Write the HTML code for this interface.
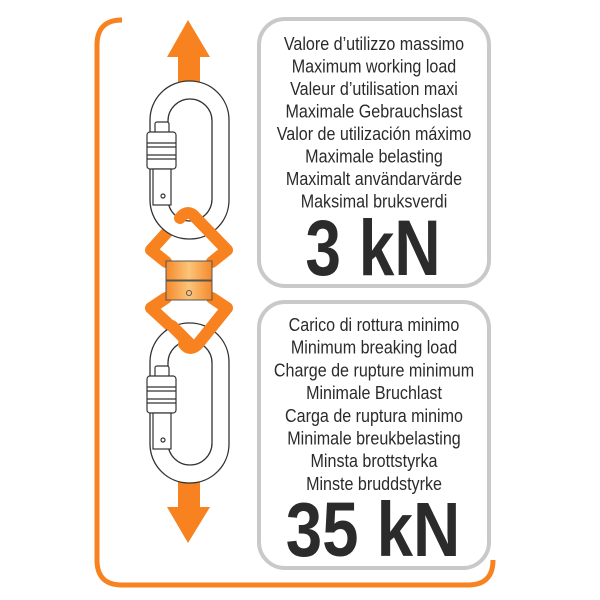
<!DOCTYPE html>
<html><head><meta charset="utf-8"><style>
html,body{margin:0;padding:0;background:#fff;}
svg{display:block}
text{font-family:"Liberation Sans",Arial,sans-serif;fill:#2b2b2b}
</style></head><body>
<svg width="600" height="600" viewBox="0 0 600 600" xmlns="http://www.w3.org/2000/svg">
<defs>
<linearGradient id="g" x1="0" y1="0" x2="1" y2="0">
<stop offset="0" stop-color="#f58a2a"/><stop offset="0.5" stop-color="#fbc47a"/><stop offset="1" stop-color="#f58a2a"/>
</linearGradient>
</defs>
<path d="M122 20 Q97 20 97 45 L97 560 Q97 585 122 585 L468 585 Q493 585 493 560" fill="none" stroke="#f7821f" stroke-width="5"/>
<rect x="259" y="19" width="230" height="267" rx="26" fill="#fff" stroke="#c9c9c9" stroke-width="4"/>
<rect x="259" y="302" width="230" height="266" rx="26" fill="#fff" stroke="#c9c9c9" stroke-width="4"/>
<polygon points="188,20 210,57 200,57 200,84 178,84 178,57 167,57" fill="#f7821f"/>
<polygon points="188,543 210,507 200,507 200,480 178,480 178,507 167,507" fill="#f7821f"/>
<g fill="none" stroke="#f7821f" stroke-width="12" stroke-linejoin="round" stroke-linecap="round">
<path d="M166 262 L151 250 L180 218"/>
<path d="M166 298 L151 308 L190 344"/>
</g>
<g fill="#fff" stroke="#333" stroke-width="1.3">
<rect x="150" y="81" width="79" height="158" rx="39"/>
<rect x="168" y="99" width="44" height="122" rx="22"/>
<rect x="150" y="323" width="79" height="160" rx="39"/>
<rect x="168" y="341" width="44" height="124" rx="22"/>
</g>
<g fill="none" stroke-width="12" stroke-linejoin="round" stroke-linecap="round" stroke="#f7821f">
<path d="M180 218 Q188 208 196 218 L227 250 L212 262"/>
<path d="M212 298 L227 308 L198 344 Q190 352 184 344"/>
<path d="M190 344 L172 326"/>
</g>
<rect x="166" y="261" width="46" height="19" fill="url(#g)" stroke="#555" stroke-width="1"/>
<rect x="166" y="281" width="46" height="19" fill="url(#g)" stroke="#555" stroke-width="1"/>
<circle cx="189" cy="293" r="2.5" fill="none" stroke="#555"/>
<g fill="#fff" stroke="#333" stroke-width="1.2">
<rect x="155" y="122" width="14" height="11" rx="2"/>
<rect x="147" y="132" width="29" height="37" rx="3"/>
<line x1="147" y1="143" x2="176" y2="143"/><line x1="147" y1="147" x2="176" y2="147"/>
<line x1="147" y1="155" x2="176" y2="155"/><line x1="147" y1="159" x2="176" y2="159"/>
<rect x="153" y="169" width="18" height="36"/>
<circle cx="163" cy="196" r="2"/>
<rect x="155" y="366" width="14" height="11" rx="2"/>
<rect x="147" y="376" width="29" height="37" rx="3"/>
<line x1="147" y1="387" x2="176" y2="387"/><line x1="147" y1="391" x2="176" y2="391"/>
<line x1="147" y1="399" x2="176" y2="399"/><line x1="147" y1="403" x2="176" y2="403"/>
<rect x="153" y="413" width="18" height="36"/>
<circle cx="163" cy="440" r="2"/>
</g>
<g transform="translate(374,0) scale(0.87,1)" text-anchor="middle" font-size="18.5">
<text x="0" y="50">Valore d’utilizzo massimo</text>
<text x="0" y="72.5">Maximum working load</text>
<text x="0" y="95">Valeur d’utilisation maxi</text>
<text x="0" y="117.5">Maximale Gebrauchslast</text>
<text x="0" y="140">Valor de utilización máximo</text>
<text x="0" y="162.5">Maximale belasting</text>
<text x="0" y="185">Maximalt användarvärde</text>
<text x="0" y="207.5">Maksimal bruksverdi</text>
<text x="0" y="331">Carico di rottura minimo</text>
<text x="0" y="353.7">Minimum breaking load</text>
<text x="0" y="376.4">Charge de rupture minimum</text>
<text x="0" y="399.1">Minimale Bruchlast</text>
<text x="0" y="421.8">Carga de ruptura minimo</text>
<text x="0" y="444.5">Minimale breukbelasting</text>
<text x="0" y="467.2">Minsta brottstyrka</text>
<text x="0" y="490">Minste bruddstyrke</text>
</g>
<g transform="translate(373,275) scale(0.81,1)"><text x="0" y="0" text-anchor="middle" font-size="79" font-weight="bold">3 kN</text></g>
<g transform="translate(373,556) scale(0.85,1)"><text x="0" y="0" text-anchor="middle" font-size="77" font-weight="bold">35 kN</text></g>
</svg>
</body></html>
